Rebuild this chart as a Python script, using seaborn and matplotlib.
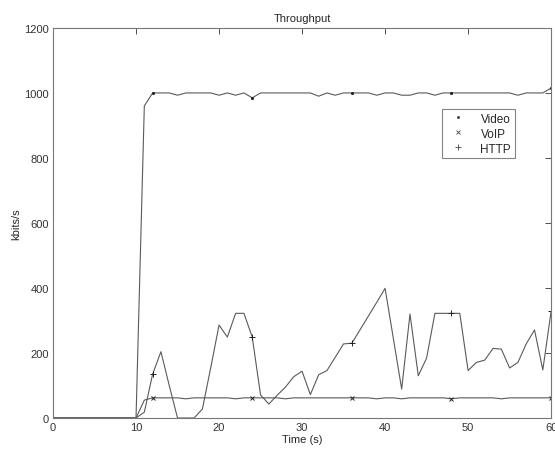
import numpy as np
import pandas as pd
import matplotlib
matplotlib.use('Agg')
import matplotlib.pyplot as plt
from matplotlib.lines import Line2D
import seaborn as sns

sns.set_style('white')
plt.rcParams['font.family'] = ['Liberation Sans', 'DejaVu Sans']

# Time axis, one sample per second
time = list(range(0, 61))

# t = 0..10 are zero, then t = 11..60
video = [0] * 11 + [960, 1000, 1000, 1000, 993, 1000, 1000, 1000, 1000, 993,
                    1000, 993, 1000, 985, 1000, 1000, 1000, 1000, 1000, 1000,
                    1000, 990, 1000, 993, 1000, 1000, 1000, 1000, 993, 1000,
                    1000, 993, 993, 1000, 1000, 993, 1000, 1000, 1000, 1000,
                    1000, 1000, 1000, 1000, 1000, 993, 1000, 1000, 1000, 1015]

voip = [0] * 11 + [55, 62, 62, 62, 62, 59, 62, 62, 62, 62,
                   62, 59, 62, 62, 62, 62, 62, 59, 62, 62,
                   62, 62, 62, 62, 62, 62, 62, 62, 59, 62,
                   62, 59, 62, 62, 62, 62, 62, 59, 62, 62,
                   62, 62, 62, 59, 62, 62, 62, 62, 62, 62]

http = [0] * 11 + [18, 135, 204, 100, 0, 0, 0, 28, 155, 286,
                   249, 322, 322, 249, 71, 43, 70, 95, 127, 144,
                   72, 133, 146, 187, 228, 230, 272, 314, 356, 399,
                   244, 89, 320, 130, 184, 322, 322, 322, 322, 146,
                   171, 178, 214, 212, 154, 171, 228, 271, 148, 328]

df = pd.DataFrame({'time': time, 'Video': video, 'VoIP': voip, 'HTTP': http})

fig, ax = plt.subplots(figsize=(5.55, 4.52), dpi=100)
fig.subplots_adjust(left=0.0955, right=0.993, bottom=0.073, top=0.936)

line_col = '#5a5a5a'
styles = {'Video': '.', 'VoIP': 'x', 'HTTP': '+'}
sizes = {'Video': 3, 'VoIP': 3.5, 'HTTP': 5}
for name, mk in styles.items():
    sns.lineplot(data=df, x='time', y=name, ax=ax, color=line_col, lw=0.8,
                 marker=mk, markersize=sizes[name], markevery=slice(12, None, 12),
                 markeredgecolor='#222222', markerfacecolor='#222222',
                 markeredgewidth=0.7)

ax.set_xlim(0, 60)
ax.set_ylim(0, 1200)
ax.set_xticks(range(0, 61, 10))
ax.set_yticks(range(0, 1201, 200))
ax.set_title('Throughput', fontsize=8, pad=5)
ax.set_xlabel('Time (s)', fontsize=8, labelpad=1)
ax.set_ylabel('kbits/s', fontsize=8, labelpad=2)
ax.tick_params(direction='in', length=4, width=0.6, labelsize=8, pad=3,
               top=True, right=True, colors='#333333')
for s in ax.spines.values():
    s.set_color('#777777')
    s.set_linewidth(0.8)

handles = [Line2D([], [], ls='none', marker=styles[n], markersize=sizes[n],
                  color='#444444', markeredgewidth=0.6) for n in styles]
leg = ax.legend(handles, list(styles), loc='upper left',
                bbox_to_anchor=(0.78, 0.792), fontsize=8.5, frameon=True,
                fancybox=False, edgecolor='#666666', handlelength=2.2,
                handletextpad=0.8, borderpad=0.3, labelspacing=0.25,
                borderaxespad=0)
leg.get_frame().set_linewidth(0.8)

fig.savefig('out.png', dpi=100, facecolor='white')
